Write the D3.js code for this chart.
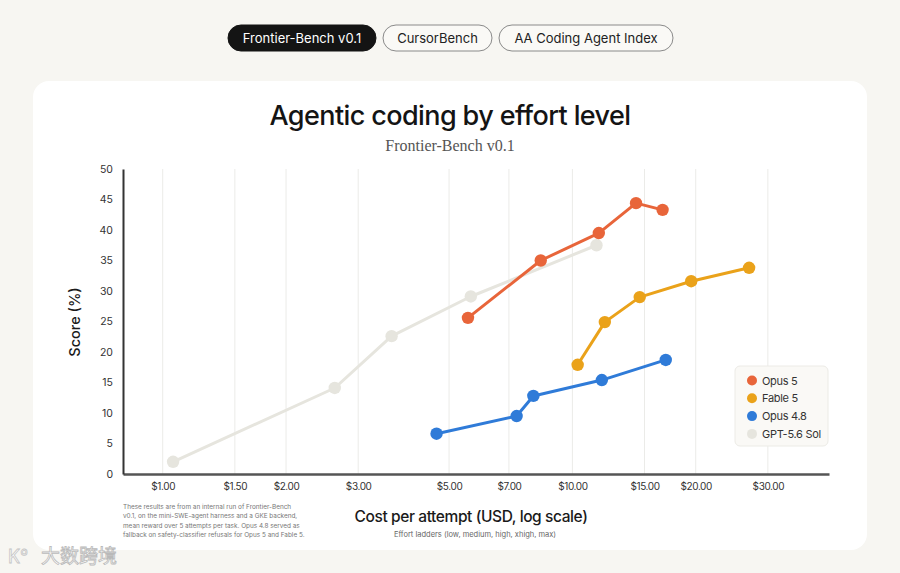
<!DOCTYPE html>
<html>
<head>
<meta charset="utf-8">
<script src="https://cdn.jsdelivr.net/npm/d3@7"></script>
<style>
  html, body { margin: 0; padding: 0; background: #f7f6f2; }
  svg { display: block; }
</style>
</head>
<body>
<svg id="chart" width="900" height="573"></svg>
<script>
"use strict";

// tabs shown above the card
const tabs = ["Frontier-Bench v0.1", "CursorBench", "AA Coding Agent Index"];

// series names, in legend order
const seriesNames = ["Opus 5", "Fable 5", "Opus 4.8", "GPT-5.6 Sol"];
const seriesColors = ["#e8653a", "#eaa21a", "#2f7bd8", "#e6e5de"];

// effort ladders (low, medium, high, xhigh, max): cost in USD, score in %
const opus5Cost = [5.56, 8.37, 11.6, 14.3, 16.6];
const opus5Score = [25.6, 35.0, 39.5, 44.4, 43.3];
const fable5Cost = [10.3, 12.0, 14.6, 19.5, 27.0];
const fable5Score = [17.9, 24.9, 29.0, 31.6, 33.8];
const opus48Cost = [4.66, 7.31, 8.03, 11.8, 16.9];
const opus48Score = [6.6, 9.5, 12.8, 15.4, 18.7];
const gptCost = [1.06, 2.63, 3.62, 5.65, 11.45];
const gptScore = [2.0, 14.1, 22.6, 29.1, 37.5];

const xTicks = [1, 1.5, 2, 3, 5, 7, 10, 15, 20, 30];
const yTicks = [0, 5, 10, 15, 20, 25, 30, 35, 40, 45, 50];

const footnote = [
  "These results are from an internal run of Frontier-Bench",
  "v0.1, on the mini-SWE-agent harness and a GKE backend,",
  "mean reward over 5 attempts per task. Opus 4.8 served as",
  "fallback on safety-classifier refusals for Opus 5 and Fable 5."
];

const costs = [opus5Cost, fable5Cost, opus48Cost, gptCost];
const scores = [opus5Score, fable5Score, opus48Score, gptScore];
let series = seriesNames.map((name, i) => ({
  name: name,
  color: seriesColors[i],
  points: costs[i].map((c, j) => ({cost: c, score: scores[i][j]}))
}));

const svg = d3.select("#chart");
const sans = "Inter, 'Noto Sans', sans-serif";

// background + card
svg.append("rect").attr("width", 900).attr("height", 573).attr("fill", "#f7f6f2");
svg.append("rect")
  .attr("x", 33).attr("y", 81).attr("width", 834).attr("height", 469)
  .attr("rx", 16).attr("fill", "#ffffff");

// tab pills
let tabX = [228, 383, 499];
let tabW = [148, 109, 174];
tabs.forEach((t, i) => {
  let g = svg.append("g").attr("transform", `translate(${tabX[i]},25)`);
  g.append("rect")
    .attr("width", tabW[i]).attr("height", 26).attr("rx", 13)
    .attr("fill", i === 0 ? "#141414" : "#faf9f6")
    .attr("stroke", i === 0 ? "#141414" : "#8a8a8a")
    .attr("stroke-width", 1);
  g.append("text")
    .attr("x", tabW[i] / 2).attr("y", 18)
    .attr("text-anchor", "middle")
    .style("font-family", sans)
    .style("font-size", "13px")
    .style("fill", i === 0 ? "#fff" : "#222")
    .text(t);
});

// titles
svg.append("text")
  .attr("x", 450).attr("y", 125)
  .attr("text-anchor", "middle")
  .style("font-family", sans)
  .style("font-size", "27px")
  .style("font-weight", 500)
  .style("letter-spacing", "-0.6px")
  .style("fill", "#141414")
  .text("Agentic coding by effort level");
svg.append("text")
  .attr("x", 450).attr("y", 151)
  .attr("text-anchor", "middle")
  .style("font-family", "'Liberation Serif', 'DejaVu Serif', serif")
  .style("font-size", "16px")
  .style("fill", "#555")
  .text("Frontier-Bench v0.1");

// scales
const plotLeft = 123, plotRight = 829, plotTop = 169, plotBottom = 474;
let x = d3.scaleLog().domain([0.8, 42.3]).range([plotLeft, plotRight]);
let y = d3.scaleLinear().domain([0, 50]).range([plotBottom, plotTop]);

// vertical gridlines
svg.append("g").selectAll("line")
  .data(xTicks)
  .enter()
  .append("line")
    .attr("x1", d => x(d)).attr("x2", d => x(d))
    .attr("y1", plotTop).attr("y2", plotBottom)
    .attr("stroke", "#ebebe8")
    .attr("stroke-width", 1);

// axes
let xAxis = svg.append("g")
  .attr("transform", `translate(0,${plotBottom})`)
  .call(d3.axisBottom(x).tickValues(xTicks).tickSize(0).tickPadding(9)
    .tickFormat(d => "$" + d3.format(".2f")(d)));
xAxis.select(".domain").attr("stroke", "#555").attr("stroke-width", 2.5);
xAxis.selectAll("text")
  .style("font-family", sans).style("font-size", "10px")
  .style("letter-spacing", "-0.4px").style("fill", "#333");

let yAxis = svg.append("g")
  .attr("transform", `translate(${plotLeft},0)`)
  .call(d3.axisLeft(y).tickValues(yTicks).tickSize(0).tickPadding(10));
yAxis.select(".domain").attr("stroke", "#333").attr("stroke-width", 2);
yAxis.selectAll("text")
  .style("font-family", sans).style("font-size", "10.5px").style("fill", "#333");

// axis titles
svg.append("text")
  .attr("transform", "translate(80,322)rotate(-90)")
  .attr("text-anchor", "middle")
  .style("font-family", sans)
  .style("font-size", "14.5px")
  .style("font-weight", 500)
  .style("fill", "#1a1a1a")
  .text("Score (%)");
svg.append("text")
  .attr("x", 471).attr("y", 522)
  .attr("text-anchor", "middle")
  .style("font-family", sans)
  .style("font-size", "15.5px")
  .style("font-weight", 500)
  .style("letter-spacing", "-0.4px")
  .style("fill", "#1a1a1a")
  .text("Cost per attempt (USD, log scale)");
svg.append("text")
  .attr("x", 475).attr("y", 537)
  .attr("text-anchor", "middle")
  .style("font-family", sans)
  .style("font-size", "7.5px")
  .style("fill", "#666")
  .text("Effort ladders (low, medium, high, xhigh, max)");

// footnote
svg.append("g").selectAll("text")
  .data(footnote)
  .enter()
  .append("text")
    .attr("x", 123)
    .attr("y", (d, i) => 509 + i * 9.3)
    .style("font-family", sans)
    .style("font-size", "6.4px")
    .style("fill", "#777")
    .text(d => d);

// lines + points, GPT drawn first so the others sit on top
let line = d3.line().x(d => x(d.cost)).y(d => y(d.score));
let drawOrder = [series[3], series[2], series[1], series[0]];
let groups = svg.append("g").selectAll("g")
  .data(drawOrder)
  .enter()
  .append("g");
groups.append("path")
  .attr("d", d => line(d.points))
  .attr("fill", "none")
  .attr("stroke", d => d.color)
  .attr("stroke-width", 3)
  .attr("stroke-linejoin", "round");
groups.selectAll("circle")
  .data(d => d.points.map(p => ({p: p, color: d.color})))
  .enter()
  .append("circle")
    .attr("cx", d => x(d.p.cost))
    .attr("cy", d => y(d.p.score))
    .attr("r", 6.2)
    .attr("fill", d => d.color);

// legend
let legend = svg.append("g").attr("transform", "translate(735,366)");
legend.append("rect")
  .attr("width", 93).attr("height", 80).attr("rx", 5)
  .attr("fill", "#faf9f6").attr("stroke", "#ecebe6");
let items = legend.selectAll("g.item")
  .data(series)
  .enter()
  .append("g")
  .attr("class", "item")
  .attr("transform", (d, i) => `translate(17,${14.5 + i * 17.8})`);
items.append("circle").attr("r", 5).attr("fill", d => d.color);
items.append("text")
  .attr("x", 10).attr("y", 4)
  .style("font-family", sans)
  .style("font-size", "11px")
  .style("letter-spacing", "-0.3px")
  .style("fill", "#333")
  .text(d => d.name);

// watermark
svg.append("text")
  .attr("x", 8).attr("y", 563)
  .style("font-family", sans)
  .style("font-size", "18px")
  .style("fill", "#ffffff")
  .style("stroke", "#c4c4c4")
  .style("stroke-width", 0.8)
  .text("K°");
svg.append("text")
  .attr("x", 41).attr("y", 563)
  .style("font-family", "'Noto Sans CJK SC', sans-serif")
  .style("font-size", "19px")
  .style("fill", "#ffffff")
  .style("stroke", "#b9b9b9")
  .style("stroke-width", 0.8)
  .text("大数跨境");
</script>
</body>
</html>
